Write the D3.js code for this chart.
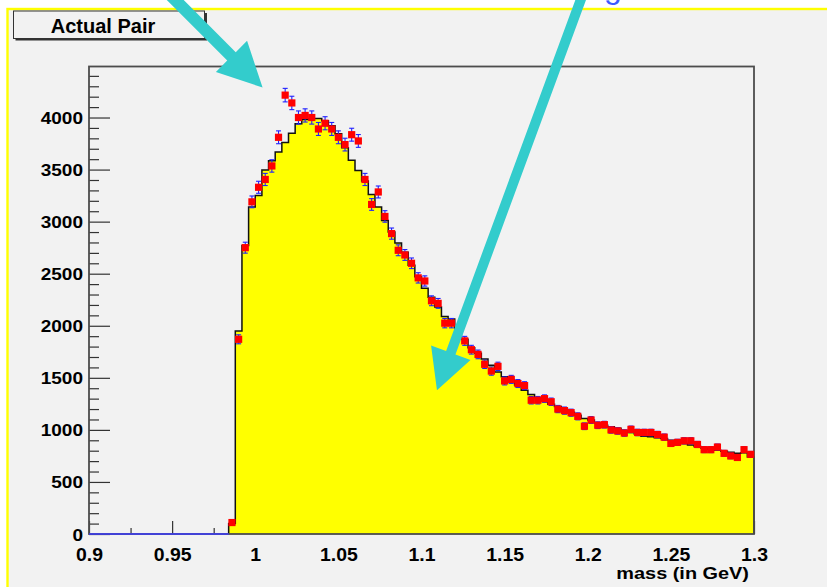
<!DOCTYPE html>
<html>
<head>
<meta charset="utf-8">
<script src="https://cdn.jsdelivr.net/npm/d3@7/dist/d3.min.js"></script>
<style>
  html, body { margin: 0; padding: 0; background: #ffffff; }
  svg { display: block; }
  text { font-family: "Liberation Sans", Arial, Helvetica, sans-serif; }
</style>
</head>
<body>
<svg id="chart" width="827" height="587"></svg>
<script>
// Invariant-mass histogram: measured pairs (red points) over the mixed-event shape (yellow)

// Binning of the filled region: 79 bins of 4 MeV starting at 0.984 GeV
const firstBinLow = 0.984;
const binWidth = 0.004;

// Measured pair counts per bin
const pairCounts = [
  110, 1870, 2750, 3190, 3330, 3405, 3535, 3810, 4215, 4140,
  4000, 4020, 4000, 3890, 3945, 3890, 3810, 3740, 3835, 3775,
  3405, 3165, 3285, 3050, 2885, 2725, 2680, 2600, 2460, 2430,
  2240, 2215, 2025, 2025, 1940, 1855, 1770, 1725, 1630, 1565,
  1610, 1470, 1485, 1445, 1425, 1285, 1285, 1300, 1270, 1200,
  1185, 1165, 1130, 1035, 1095, 1045, 1050, 1000, 990, 970,
  1005, 975, 975, 975, 955, 930, 870, 880, 895, 895,
  860, 810, 810, 835, 775, 750, 735, 810, 765
];

// Mixed-event reference histogram per bin
const mixedCounts = [
  100, 1950, 2770, 3140, 3250, 3495, 3585, 3670, 3760, 3850,
  3940, 3980, 3990, 3990, 3970, 3920, 3845, 3710, 3590, 3490,
  3390, 3260, 3140, 3010, 2900, 2795, 2705, 2580, 2470, 2360,
  2275, 2180, 2090, 2065, 1960, 1870, 1790, 1735, 1680, 1620,
  1557, 1510, 1480, 1430, 1381, 1340, 1310, 1280, 1245, 1225,
  1195, 1170, 1140, 1110, 1094, 1065, 1045, 1030, 1015, 995,
  975, 960, 940, 933, 925, 918, 900, 885, 870, 855,
  840, 825, 815, 805, 795, 785, 775, 780, 740
];

// Axis ticks
const xMajorTicks = [0.9, 0.95, 1.0, 1.05, 1.1, 1.15, 1.2, 1.25, 1.3];
const xMajorLabels = ["0.9", "0.95", "1", "1.05", "1.1", "1.15", "1.2", "1.25", "1.3"];
const xMinorTicks = [0.925, 0.975, 1.025, 1.075, 1.125, 1.175, 1.225, 1.275];
const yMajorTicks = [0, 500, 1000, 1500, 2000, 2500, 3000, 3500, 4000];
const yMinorTicks = [100, 200, 300, 400, 600, 700, 800, 900, 1100, 1200, 1300, 1400,
  1600, 1700, 1800, 1900, 2100, 2200, 2300, 2400, 2600, 2700, 2800, 2900,
  3100, 3200, 3300, 3400, 3600, 3700, 3800, 3900, 4100, 4200, 4300, 4400];

// Annotation arrows, [mass, count] from tail to tip
const arrowTails = [[0.9463, 5218], [1.1978, 5218]];
const arrowTips  = [[1.0044, 4288], [1.1093, 1381]];

const titleText = "Actual Pair";
const xTitle = "mass (in GeV)";

// ---------------------------------------------------------------
const svg = d3.select("#chart");
const W = 827, H = 587;
const plot = { left: 89, right: 754, top: 66.5, bottom: 534 };

const x = d3.scaleLinear().domain([0.9, 1.3]).range([plot.left, plot.right]);
const y = d3.scaleLinear().domain([0, 4490]).range([plot.bottom, plot.top]);

// page + pad
svg.append("rect").attr("width", W).attr("height", H).attr("fill", "#ffffff");
svg.append("rect")
  .attr("x", 7.5).attr("y", 9).attr("width", W + 20).attr("height", H + 20)
  .attr("fill", "#f2f2f2").attr("stroke", "#ffff00").attr("stroke-width", 2.4);

// axes (drawn first so the filled histogram hides the ticks beneath it)
const tickColor = "#333333";

const xAxisMajor = svg.append("g")
  .attr("transform", `translate(0,${plot.bottom})`)
  .call(d3.axisBottom(x).tickValues(xMajorTicks)
    .tickFormat((d, i) => xMajorLabels[i]).tickSize(-13));
xAxisMajor.select(".domain").remove();
xAxisMajor.selectAll(".tick line").attr("stroke", tickColor).attr("stroke-width", 1.2);
xAxisMajor.selectAll(".tick text")
  .attr("x", 0).attr("y", 0).attr("dy", null)
  .attr("transform", "translate(0,27) scale(1.08,1)")
  .attr("fill", "#000").attr("font-size", 18).attr("font-weight", "bold")
  .attr("font-family", "'Liberation Sans', Arial, sans-serif");

const xAxisMinor = svg.append("g")
  .attr("transform", `translate(0,${plot.bottom})`)
  .call(d3.axisBottom(x).tickValues(xMinorTicks).tickFormat("").tickSize(-6));
xAxisMinor.select(".domain").remove();
xAxisMinor.selectAll(".tick line").attr("stroke", tickColor).attr("stroke-width", 1.2);

const yAxisMajor = svg.append("g")
  .attr("transform", `translate(${plot.left},0)`)
  .call(d3.axisLeft(y).tickValues(yMajorTicks).tickFormat(d3.format("d")).tickSize(-21));
yAxisMajor.select(".domain").remove();
yAxisMajor.selectAll(".tick line").attr("stroke", tickColor).attr("stroke-width", 1.2);
yAxisMajor.selectAll(".tick text")
  .attr("x", 0).attr("dy", null).attr("y", 0)
  .attr("transform", "translate(-6,6) scale(1.12,1)")
  .attr("text-anchor", "end")
  .attr("fill", "#000").attr("font-size", 17).attr("font-weight", "bold")
  .attr("font-family", "'Liberation Sans', Arial, sans-serif");

const yAxisMinor = svg.append("g")
  .attr("transform", `translate(${plot.left},0)`)
  .call(d3.axisLeft(y).tickValues(yMinorTicks).tickFormat("").tickSize(-10));
yAxisMinor.select(".domain").remove();
yAxisMinor.selectAll(".tick line").attr("stroke", tickColor).attr("stroke-width", 1.2);

// mixed-event histogram as filled steps
const bins = mixedCounts.map((v, i) => {
  const lo = firstBinLow + i * binWidth;
  return { lo, hi: lo + binWidth, v };
});
const stepPts = [];
bins.forEach(b => { stepPts.push([b.lo, b.v]); stepPts.push([b.hi, b.v]); });

svg.append("path")
  .datum(stepPts)
  .attr("d", d3.area().x(d => x(d[0])).y0(y(0)).y1(d => y(d[1])))
  .attr("fill", "#ffff00");

const outline = [[bins[0].lo, 0], ...stepPts, [bins[bins.length - 1].hi, 0]];
svg.append("path")
  .datum(outline)
  .attr("d", d3.line().x(d => x(d[0])).y(d => y(d[1])))
  .attr("fill", "none").attr("stroke", "#111").attr("stroke-width", 1.5);

// frame
svg.append("rect")
  .attr("x", plot.left).attr("y", plot.top)
  .attr("width", plot.right - plot.left).attr("height", plot.bottom - plot.top)
  .attr("fill", "none").attr("stroke", "#4d4d4d").attr("stroke-width", 1.8);

// empty measured bins below threshold sit on the baseline
svg.append("line")
  .attr("x1", x(0.9)).attr("x2", x(firstBinLow))
  .attr("y1", y(0)).attr("y2", y(0))
  .attr("stroke", "#3a3aff").attr("stroke-width", 1.6);

// measured points with Poisson error bars
const pts = pairCounts.map((v, i) => ({
  c: firstBinLow + (i + 0.5) * binWidth, v, e: Math.sqrt(v)
}));
const errG = svg.append("g").attr("stroke", "#2020ff").attr("stroke-width", 1.1);
pts.forEach(p => {
  const cx = x(p.c), yl = y(p.v - p.e), yh = y(p.v + p.e);
  errG.append("line").attr("x1", cx).attr("x2", cx).attr("y1", yl).attr("y2", yh);
  errG.append("line").attr("x1", cx - 2.5).attr("x2", cx + 2.5).attr("y1", yl).attr("y2", yl);
  errG.append("line").attr("x1", cx - 2.5).attr("x2", cx + 2.5).attr("y1", yh).attr("y2", yh);
});
svg.append("g").selectAll("rect")
  .data(pts).join("rect")
  .attr("x", d => x(d.c) - 3.6).attr("y", d => y(d.v) - 3.6)
  .attr("width", 7.2).attr("height", 7.2)
  .attr("fill", "#ff0000");

// x-axis title
svg.append("text")
  .attr("transform", "translate(749,579) scale(1.17,1)")
  .attr("text-anchor", "end")
  .attr("font-size", 17).attr("font-weight", "bold").attr("fill", "#000")
  .text(xTitle);

// title box with drop shadow
svg.append("rect").attr("x", 15.5).attr("y", 13).attr("width", 191.5).attr("height", 27.5)
  .attr("fill", "#333");
svg.append("rect").attr("x", 13.5).attr("y", 11).attr("width", 191).attr("height", 27.5)
  .attr("fill", "#f2f2f2").attr("stroke", "#333").attr("stroke-width", 1);
svg.append("text")
  .attr("x", 103).attr("y", 32.5)
  .attr("text-anchor", "middle")
  .attr("font-size", 20).attr("font-weight", "bold").attr("fill", "#000")
  .text(titleText);

// annotation arrows
function arrowPoints(tail, tip, w, hl, hw) {
  const sx = x(tail[0]), sy = y(tail[1]);
  const tx = x(tip[0]), ty = y(tip[1]);
  const L = Math.hypot(tx - sx, ty - sy);
  const ux = (tx - sx) / L, uy = (ty - sy) / L;
  const nx = -uy, ny = ux;
  const bx = tx - ux * hl, by = ty - uy * hl;
  return [
    [sx + nx * w / 2, sy + ny * w / 2],
    [bx + nx * w / 2, by + ny * w / 2],
    [bx + nx * hw / 2, by + ny * hw / 2],
    [tx, ty],
    [bx - nx * hw / 2, by - ny * hw / 2],
    [bx - nx * w / 2, by - ny * w / 2],
    [sx - nx * w / 2, sy - ny * w / 2]
  ].map(p => p.join(",")).join(" ");
}
const arrowStyle = [{ w: 12, hl: 44, hw: 44 }, { w: 10, hl: 40, hw: 42 }];
arrowTails.forEach((t, i) => {
  const s = arrowStyle[i];
  svg.append("polygon")
    .attr("points", arrowPoints(t, arrowTips[i], s.w, s.hl, s.hw))
    .attr("fill", "#33cccc");
});

// slide caption descending into view at the top edge
svg.append("text")
  .attr("x", 613).attr("y", -2)
  .attr("text-anchor", "middle")
  .attr("font-size", 32).attr("fill", "#3b5bff")
  .attr("font-family", "'Liberation Sans', Arial, sans-serif")
  .text("g");
</script>
</body>
</html>
